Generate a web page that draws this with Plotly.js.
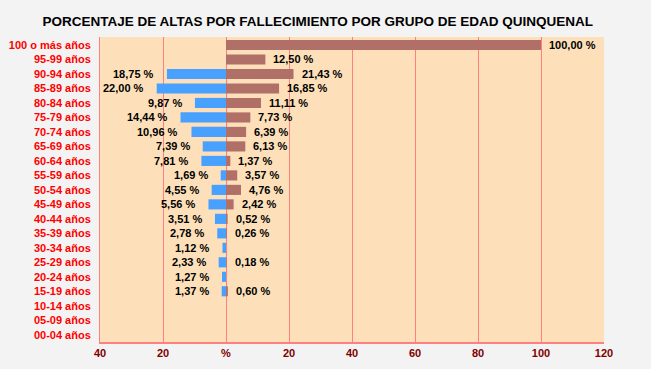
<!DOCTYPE html>
<html>
<head>
<meta charset="utf-8">
<script src="https://cdn.plot.ly/plotly-3.0.1.min.js"></script>
<style>
  html, body { margin: 0; padding: 0; background: #f3f3f3; }
  #chart { width: 651px; height: 369px; }
</style>
</head>
<body>
<div id="chart"></div>
<script>
// Grupos de edad, de arriba abajo
const grupos = ['100 o más años', '95-99 años', '90-94 años', '85-89 años', '80-84 años',
  '75-79 años', '70-74 años', '65-69 años', '60-64 años', '55-59 años', '50-54 años',
  '45-49 años', '40-44 años', '35-39 años', '30-34 años', '25-29 años', '20-24 años',
  '15-19 años', '10-14 años', '05-09 años', '00-04 años'];

// Barras azules (izquierda) y marrones (derecha), null = sin dato
const izquierda = [null, null, 18.75, 22.00, 9.87, 14.44, 10.96, 7.39, 7.81, 1.69, 4.55,
  5.56, 3.51, 2.78, 1.12, 2.33, 1.27, 1.37, null, null, null];
const derecha = [100.00, 12.50, 21.43, 16.85, 11.11, 7.73, 6.39, 6.13, 1.37, 3.57, 4.76,
  2.42, 0.52, 0.26, null, 0.18, null, 0.60, null, null, null];

const tickVals = [-40, -20, 0, 20, 40, 60, 80, 100, 120];
const tickText = ['40', '20', '%', '20', '40', '60', '80', '100', '120'];

const fmt = v => v.toFixed(2).replace('.', ',') + ' %';

const trazaIzq = {
  type: 'bar',
  orientation: 'h',
  y: grupos,
  x: izquierda.map(v => v === null ? null : -v),
  width: 0.7,
  marker: { color: '#48a0ff' },
  hoverinfo: 'none'
};

const trazaDer = {
  type: 'bar',
  orientation: 'h',
  y: grupos,
  x: derecha,
  width: 0.7,
  marker: { color: '#b07068' },
  hoverinfo: 'none'
};

// Etiquetas de porcentaje junto a cada barra
const etiquetas = [];
const fuenteEtiqueta = { family: 'Liberation Sans, Arial, sans-serif', size: 11, color: '#000', weight: 'bold' };
grupos.forEach((g, i) => {
  if (izquierda[i] !== null) {
    etiquetas.push({ x: -izquierda[i], y: g, xref: 'x', yref: 'y', text: fmt(izquierda[i]),
      showarrow: false, xanchor: 'right', xshift: -11, font: fuenteEtiqueta });
  }
  if (derecha[i] !== null) {
    etiquetas.push({ x: derecha[i], y: g, xref: 'x', yref: 'y', text: fmt(derecha[i]),
      showarrow: false, xanchor: 'left', xshift: 6, font: fuenteEtiqueta });
  }
});

const layout = {
  width: 651,
  height: 369,
  paper_bgcolor: '#f3f3f3',
  plot_bgcolor: '#fde0ba',
  barmode: 'overlay',
  showlegend: false,
  margin: { l: 100, r: 47, t: 37, b: 27 },
  title: {
    text: 'PORCENTAJE DE ALTAS POR FALLECIMIENTO POR GRUPO DE EDAD QUINQUENAL',
    x: 0.488,
    xanchor: 'center',
    y: 0.943,
    yanchor: 'middle',
    font: { family: 'Liberation Sans, Arial, sans-serif', size: 13.5, color: '#000', weight: 'bold' }
  },
  xaxis: {
    range: [-40, 120],
    tickvals: tickVals,
    ticktext: tickText,
    showgrid: true,
    gridcolor: '#ff8080',
    gridwidth: 1,
    zeroline: false,
    showline: true,
    linecolor: '#ff8080',
    linewidth: 2,
    ticks: '',
    tickfont: { family: 'Liberation Sans, Arial, sans-serif', size: 11, color: '#800000', weight: 'bold' },
    fixedrange: true
  },
  yaxis: {
    type: 'category',
    categoryorder: 'array',
    categoryarray: grupos,
    autorange: 'reversed',
    showgrid: false,
    zeroline: false,
    showline: true,
    linecolor: '#ff8080',
    linewidth: 1,
    ticks: '',
    ticklabelstandoff: 6,
    tickfont: { family: 'Liberation Sans, Arial, sans-serif', size: 11, color: '#ff0000', weight: 'bold' },
    fixedrange: true
  },
  annotations: etiquetas
};

Plotly.newPlot('chart', [trazaIzq, trazaDer], layout, { displayModeBar: false, staticPlot: true });
</script>
</body>
</html>
